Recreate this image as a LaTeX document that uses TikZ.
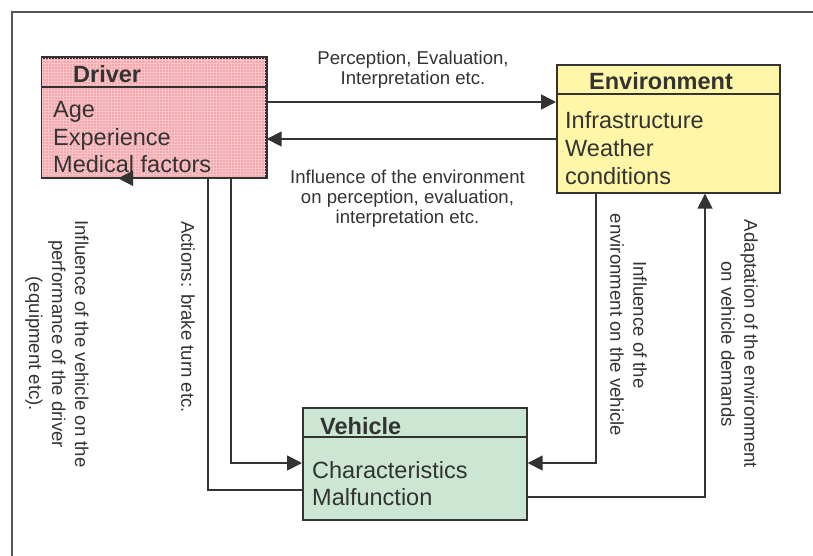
\documentclass[tikz,border=0pt]{standalone}
\usepackage{fontspec}
\setmainfont{Liberation Sans}
\usetikzlibrary{arrows.meta}
\definecolor{ink}{HTML}{333333}
\definecolor{drvfill}{HTML}{F3A8AE}
\definecolor{drvgrid}{HTML}{F8C4C8}
\definecolor{envfill}{HTML}{FFF6A8}
\definecolor{vehfill}{HTML}{CBE6D3}
\definecolor{framec}{HTML}{555555}
\begin{document}
\begin{tikzpicture}[x=1pt,y=-1pt,
  box/.style={draw=ink, line width=1.7pt, anchor=north west, inner sep=0pt},
  hdr/.style={font=\fontsize{23.5}{27}\selectfont\bfseries, text=ink, anchor=base west, inner sep=0pt},
  item/.style={font=\fontsize{23.5}{27}\selectfont, text=ink, anchor=base west, inner sep=0pt},
  lbl/.style={font=\fontsize{18.6}{20}\selectfont, text=ink, anchor=base, inner sep=0pt},
  rlbl/.style={font=\fontsize{18.6}{23}\selectfont, text=ink, align=center, rotate=-90, inner sep=0pt},
  conn/.style={draw=ink, line width=1.7pt},
  tip/.style={-{Triangle[length=15pt,width=15pt]}}
]
\useasboundingbox (0,0) rectangle (813,556);
% frame
\coordinate (fb) at (11.5,560);
\coordinate (fc) at (11.5,12);
\coordinate (fr) at (816,12);
\draw[framec, line width=2pt] (fb) -- (fc) -- (fr);

% boxes
\node[box, fill=drvfill, minimum width=223.5pt, minimum height=119.6pt] (drv) at (41.5,57) {};
\begin{scope}
\clip (drv.north west) rectangle (drv.south east);
\draw[drvgrid, line width=0.4pt, step=3pt] (38,54) grid (268,180);
\end{scope}
\draw[ink, line width=1.7pt] (drv.north west) rectangle (drv.south east);
\node[box, fill=envfill, minimum width=223pt, minimum height=128pt] (env) at (556,64) {};
\node[box, fill=vehfill, minimum width=224pt, minimum height=112pt] (veh) at (302,407) {};

% header separators
\coordinate (hd) at (0,87);
\coordinate (he) at (0,94);
\coordinate (hv) at (0,437);
\draw[ink, line width=1.7pt] (drv.west |- hd) -- (drv.east |- hd);
\draw[ink, line width=1.7pt] (env.west |- he) -- (env.east |- he);
\draw[ink, line width=1.7pt] (veh.west |- hv) -- (veh.east |- hv);

% box texts
\node[hdr] (dh) at (73,83) {Driver};
\node[item] (d1) at (53,118) {Age};
\node[item] (d2) at (53,146) {Experience};
\node[item] (d3) at (53,173) {Medical factors};
\node[hdr] (eh) at (589,90) {Environment};
\node[item] (e1) at (565,129) {Infrastructure};
\node[item] (e2) at (565,157) {Weather};
\node[item] (e3) at (565,184) {conditions};
\node[hdr] (vh) at (320,434) {Vehicle};
\node[item] (v1) at (312,478) {Characteristics};
\node[item] (v2) at (312,505) {Malfunction};

% connector helper coordinates
\coordinate (y102) at (0,102);
\coordinate (y139) at (0,139);
\coordinate (y463) at (0,463);
\coordinate (y490) at (0,490);
\coordinate (y497) at (0,497);
\coordinate (x231) at (231,0);
\coordinate (x208) at (208,0);
\coordinate (x118) at (118,0);
\coordinate (x596) at (596,0);
\coordinate (x705) at (705,0);

\draw[conn,tip] (drv.east |- y102) -- (env.west |- y102);
\draw[conn,tip] (env.west |- y139) -- (drv.east |- y139);
\draw[conn,tip] (drv.south -| x231) |- (veh.west |- y463);
\draw[conn,tip] (veh.west |- y490) -| (x208 |- drv.south) -- (x118 |- drv.south);
\draw[conn,tip] (env.south -| x596) |- (veh.east |- y463);
\draw[conn,tip] (veh.east |- y497) -| (env.south -| x705);

% labels
\node[lbl] (l1a) at (413,65) {Perception, Evaluation,};
\node[lbl] (l1b) at (413,85) {Interpretation etc.};
\node[lbl] (l2a) at (407.5,183) {Influence of the environment};
\node[lbl] (l2b) at (407.5,203) {on perception, evaluation,};
\node[lbl] (l2c) at (407.5,223) {interpretation etc.};

\node[rlbl] (lact) at (188,317) {Actions: brake turn etc.};
\node[rlbl] (lveh) at (57,344) {Influence of the vehicle on the\\performance of the driver\\(equipment etc).};
\node[rlbl] (lenv) at (628.5,325) {Influence of the\\environment on the vehicle};
\node[rlbl] (ladp) at (739.5,344) {Adaptation of the environment\\on vehicle demands};
\end{tikzpicture}
\end{document}
